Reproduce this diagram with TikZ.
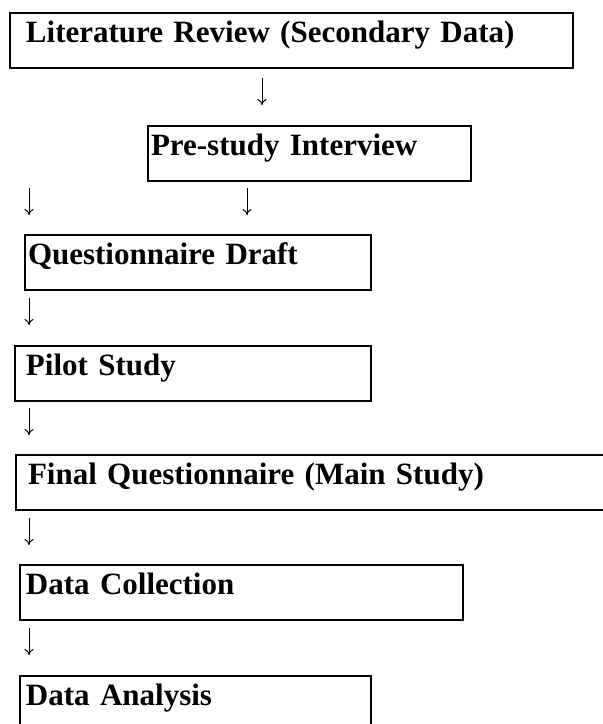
\documentclass[tikz,border=0pt]{standalone}
\usepackage{fontspec}
\setmainfont{Liberation Serif}
\usetikzlibrary{arrows.meta}

\begin{document}
\begin{tikzpicture}[x=1pt,y=-1pt,
    stage/.style={draw,line width=2pt,anchor=north west,align=left,
        inner ysep=0pt,text height=29pt,text depth=26pt,
        font=\fontsize{31}{36}\selectfont\bfseries},
    down/.style={-{To[length=6pt,width=9pt]},line width=1pt}]
\useasboundingbox (0,0) rectangle (603,724);

\node[stage,inner xsep=16pt,text width=531pt] (lit) at (9,12) {Literature Review (Secondary Data)};
\node[stage,inner xsep=3pt,text width=317pt] (pre) at (147,125) {Pre-study Interview};
\node[stage,inner xsep=3pt,text width=340pt] (draft) at (24,234) {Questionnaire Draft};
\node[stage,inner xsep=11pt,text width=334pt] (pilot) at (14,345) {Pilot Study};
\node[stage,inner xsep=12pt,text width=596pt] (final) at (15,454) {Final Questionnaire (Main Study)};
\node[stage,inner xsep=6pt,text width=431pt] (collect) at (19,564) {Data Collection};
\node[stage,inner xsep=6pt,text width=339pt] (analysis) at (19,675) {Data Analysis};

\coordinate (litout) at (262,78);   \coordinate (prein) at (262,105);
\coordinate (leftout) at (29,188);  \coordinate (leftin) at (29,215);
\coordinate (preout) at (247,188);  \coordinate (draftin) at (247,215);
\coordinate (draftout) at (29,298); \coordinate (pilotin) at (29,325);
\coordinate (pilotout) at (29,408); \coordinate (finalin) at (29,435);
\coordinate (finalout) at (29,518); \coordinate (collectin) at (29,545);
\coordinate (collectout) at (29,628); \coordinate (analysisin) at (29,655);

\draw[down] (litout) -- (prein);
\draw[down] (leftout) -- (leftin);
\draw[down] (preout) -- (draftin);
\draw[down] (draftout) -- (pilotin);
\draw[down] (pilotout) -- (finalin);
\draw[down] (finalout) -- (collectin);
\draw[down] (collectout) -- (analysisin);

\end{tikzpicture}
\end{document}
